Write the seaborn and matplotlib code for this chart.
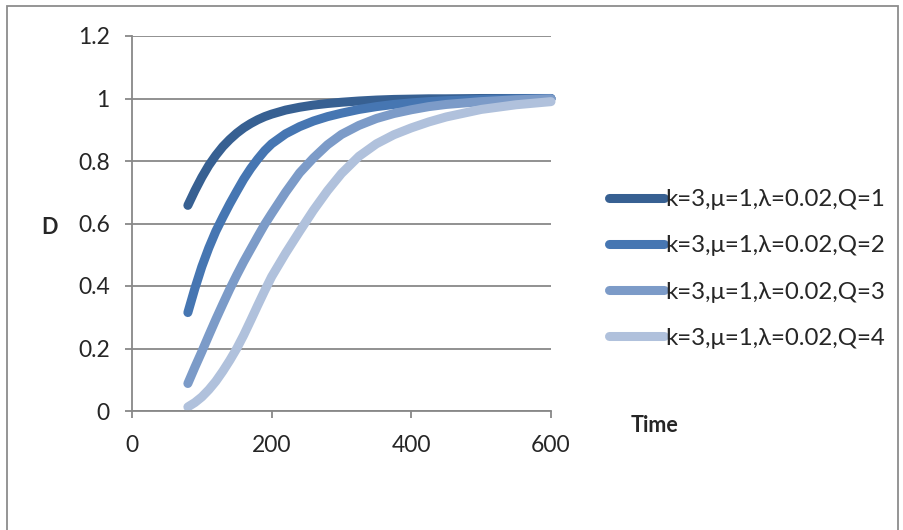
import numpy as np
import pandas as pd
import matplotlib
matplotlib.use("Agg")
import matplotlib.pyplot as plt
from matplotlib.patches import Rectangle
import seaborn as sns

# Sampled time points
time = [80, 90, 100, 110, 120, 130, 140, 150, 160, 170, 180, 190, 200, 220,
        240, 260, 280, 300, 325, 350, 375, 400, 425, 450, 500, 550, 600]

# D values for each Q
d_q1 = [0.658, 0.705, 0.748, 0.786, 0.818, 0.846, 0.869, 0.889, 0.906, 0.920,
        0.932, 0.942, 0.950, 0.963, 0.972, 0.979, 0.984, 0.988, 0.992, 0.995,
        0.997, 0.998, 0.999, 0.999, 1.000, 1.000, 1.000]
d_q2 = [0.315, 0.392, 0.462, 0.522, 0.575, 0.620, 0.663, 0.703, 0.742, 0.776,
        0.806, 0.833, 0.855, 0.887, 0.910, 0.928, 0.942, 0.953, 0.965, 0.974,
        0.981, 0.986, 0.990, 0.993, 0.997, 0.999, 1.000]
d_q3 = [0.088, 0.140, 0.190, 0.242, 0.293, 0.342, 0.390, 0.435, 0.478, 0.518,
        0.558, 0.597, 0.632, 0.700, 0.762, 0.810, 0.852, 0.885, 0.914, 0.936,
        0.952, 0.964, 0.974, 0.981, 0.990, 0.996, 0.999]
d_q4 = [0.013, 0.027, 0.045, 0.068, 0.095, 0.127, 0.162, 0.200, 0.243, 0.290,
        0.338, 0.385, 0.430, 0.505, 0.575, 0.643, 0.705, 0.760, 0.815, 0.855,
        0.884, 0.906, 0.925, 0.941, 0.965, 0.980, 0.990]

labels = ["k=3,\u03bc=1,\u03bb=0.02,Q=1", "k=3,\u03bc=1,\u03bb=0.02,Q=2",
          "k=3,\u03bc=1,\u03bb=0.02,Q=3", "k=3,\u03bc=1,\u03bb=0.02,Q=4"]
colors = ["#376092", "#4676B2", "#7C9BC8", "#B0C1DC"]

y_ticks = [0, 0.2, 0.4, 0.6, 0.8, 1.0, 1.2]
y_tick_labels = ["0", "0.2", "0.4", "0.6", "0.8", "1", "1.2"]
x_ticks = [0, 200, 400, 600]
x_tick_labels = ["0", "200", "400", "600"]

df = pd.concat([
    pd.DataFrame({"Time": time, "D": d, "series": lab})
    for d, lab in zip([d_q1, d_q2, d_q3, d_q4], labels)
], ignore_index=True)

sns.set_style("white")
plt.rcParams["font.family"] = ["Lato", "DejaVu Sans"]

fig = plt.figure(figsize=(9.04, 5.30), dpi=100)
ax = fig.add_axes([132 / 904, 1 - 411 / 530, 419 / 904, 375 / 530])

sns.lineplot(data=df, x="Time", y="D", hue="series", palette=colors,
             linewidth=6.5, solid_capstyle="round", legend=False, ax=ax,
             clip_on=False)

ax.set_xlim(0, 600)
ax.set_ylim(0, 1.2)
ax.set_yticks(y_ticks)
ax.set_yticklabels(y_tick_labels)
ax.set_xticks(x_ticks)
ax.set_xticklabels(x_tick_labels)
ax.set_xlabel("")
ax.set_ylabel("")

grid_col = "#888888"
ax.yaxis.grid(True, color=grid_col, linewidth=1.3)
ax.set_axisbelow(True)
for side in ["top", "right"]:
    ax.spines[side].set_visible(False)
for side in ["left", "bottom"]:
    ax.spines[side].set_color(grid_col)
    ax.spines[side].set_linewidth(1.3)

ax.tick_params(axis="y", direction="out", length=5, width=1.3, color=grid_col,
               labelsize=16.5, pad=11, left=True)
ax.tick_params(axis="x", direction="out", length=5, width=1.3, color=grid_col,
               labelsize=16.5, pad=12, bottom=True)

# Axis titles
fig.text(50 / 904, 1 - 228 / 530, "D", fontsize=15.5, fontweight="bold",
         ha="center", va="center")
fig.text(655 / 904, 1 - 425 / 530, "Time", fontsize=15.5, fontweight="bold",
         ha="center", va="center")

leg = ax.legend(handles=ax.lines[:4], labels=labels, loc="center left",
                bbox_to_anchor=(609 / 904, 1 - 269 / 530),
                bbox_transform=fig.transFigure, frameon=False,
                fontsize=17.3, handlelength=2.3, handletextpad=0.05,
                labelspacing=1.05, borderaxespad=0, borderpad=0)

# Chart border
fig.patches.append(Rectangle((7 / 904, -0.05), 891 / 904, 1 - 6 / 530 + 0.05,
                             transform=fig.transFigure, fill=False,
                             edgecolor="#8C8C8C", linewidth=1.3))

fig.savefig("out.png", dpi=100)
